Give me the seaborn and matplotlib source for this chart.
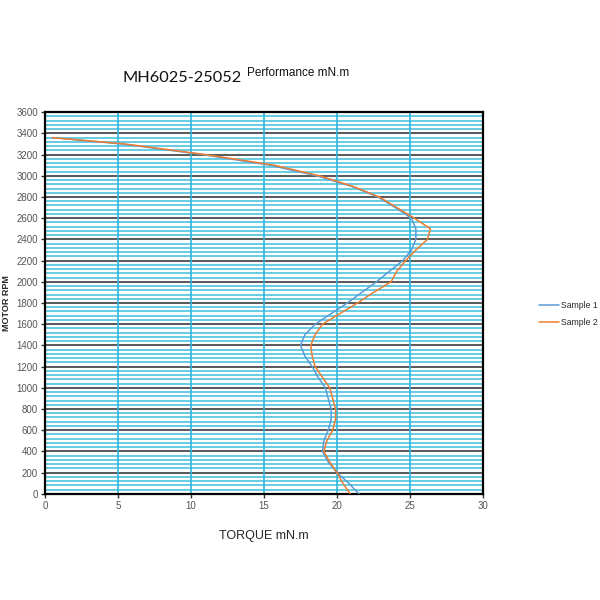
import matplotlib
import matplotlib.pyplot as plt
import numpy as np
import pandas as pd
import seaborn as sns

matplotlib.use("Agg")

RPM = [0, 100, 200, 300, 400, 500, 600, 700, 800, 900, 1000, 1100, 1200, 1300,
       1400, 1500, 1600, 1700, 1800, 1900, 2000, 2100, 2200, 2300, 2400, 2500,
       2600, 2700, 2800, 2900, 3000, 3100, 3200, 3300, 3360]

SAMPLE_1 = [21.5, 20.8, 20.0, 19.4, 19.0, 19.1, 19.4, 19.6, 19.6, 19.4, 19.2, 18.7,
            18.3, 17.8, 17.5, 17.8, 18.5, 19.6, 20.7, 21.7, 22.7, 23.6, 24.5, 25.1,
            25.4, 25.4, 25.1, 24.0, 22.8, 21.0, 18.6, 15.4, 10.8, 5.3, 0.5]

SAMPLE_2 = [20.9, 20.4, 20.0, 19.5, 19.1, 19.3, 19.7, 19.9, 19.9, 19.7, 19.5, 19.0,
            18.5, 18.3, 18.2, 18.5, 19.0, 20.2, 21.4, 22.5, 23.7, 24.1, 24.7, 25.4,
            26.2, 26.4, 25.3, 24.1, 22.9, 21.1, 18.8, 15.7, 11.0, 5.5, 0.5]

SERIES_NAMES = ["Sample 1", "Sample 2"]
COLORS = ["#5b9bd5", "#ed7d31"]

X_TICKS = [0, 5, 10, 15, 20, 25, 30]
Y_TICKS = list(range(0, 3601, 200))


def build_frame() -> pd.DataFrame:
    frames = []
    for name, values in zip(SERIES_NAMES, [SAMPLE_1, SAMPLE_2]):
        frames.append(pd.DataFrame({"rpm": RPM, "torque": values, "series": name}))
    return pd.concat(frames, ignore_index=True)


def main() -> None:
    sns.set_theme(style="white")
    plt.rcParams["font.family"] = ["Liberation Sans", "DejaVu Sans"]

    df = build_frame()

    fig = plt.figure(figsize=(6, 6), dpi=100)
    ax = fig.add_axes([0.075, 0.177, 0.73, 0.636])

    # dense horizontal minor grid, dark major grid, cyan verticals
    for y in np.arange(0, 3601, 40):
        if y % 200 == 0:
            ax.axhline(y, color="#2b2b2b", lw=1.1, zorder=1)
        else:
            ax.axhline(y, color="#5cc8e2", lw=1.3, zorder=0.5)
    for x in X_TICKS[1:-1]:
        ax.axvline(x, color="#2db7dc", lw=1.2, zorder=1.2)

    sns.lineplot(
        data=df, x="torque", y="rpm", hue="series", palette=COLORS,
        sort=False, estimator=None, orient="y", lw=1.1, ax=ax, zorder=3,
    )

    ax.set_xlim(0, 30)
    ax.set_ylim(0, 3600)
    ax.set_xticks(X_TICKS)
    ax.set_yticks(Y_TICKS)
    ax.tick_params(axis="both", labelsize=7, labelcolor="#555555",
                   direction="out", length=3, width=1, color="#333333",
                   bottom=True, left=True, pad=2)
    for spine in ax.spines.values():
        spine.set_color("black")
        spine.set_linewidth(1.6)

    ax.set_xlabel("TORQUE mN.m", fontsize=9, labelpad=14)
    ax.set_ylabel("MOTOR RPM", fontsize=6.5, fontweight="bold")
    ax.yaxis.set_label_coords(-0.078, 0.5)

    handles, labels = ax.get_legend_handles_labels()
    ax.legend(handles, labels, loc="center left", bbox_to_anchor=(1.128, 0.471),
              frameon=False, fontsize=6.2, handlelength=2.3, handletextpad=0.3,
              labelspacing=1.0, borderpad=0, borderaxespad=0)

    fig.text(0.205, 0.863, "MH6025-25052", fontsize=11.8, family="Lato",
             color="#111111", ha="left", va="baseline")
    fig.text(0.412, 0.873, "Performance mN.m", fontsize=8.5, color="#111111",
             ha="left", va="baseline")

    fig.savefig("out.png", dpi=100)
    plt.close(fig)


if __name__ == "__main__":
    main()
